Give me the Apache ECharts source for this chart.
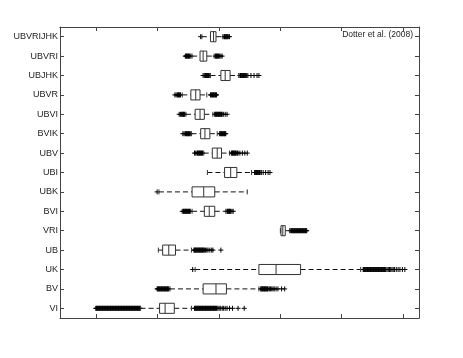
<!DOCTYPE html>
<html>
<head>
    <meta http-equiv=Content-Type content="text/html; charset=utf-8">
    <title>Boxplot</title>
    <script type="text/javascript" src="https://cdn.jsdelivr.net/npm/echarts@6/dist/echarts.min.js"></script>
    <style>
        html, body { margin: 0; padding: 0; background: #fff; }
        #chartmain { width: 463px; height: 358px; }
    </style>
</head>
<body>
<div id="chartmain"></div>
<script type="text/javascript">
    // categories, top to bottom
    var categories = ['UBVRIJHK', 'UBVRI', 'UBJHK', 'UBVR', 'UBVI', 'BVIK', 'UBV', 'UBI',
        'UBK', 'BVI', 'VRI', 'UB', 'UK', 'BV', 'VI'];
    var whiskerLow  = [2.72, 2.56, 2.86, 2.40, 2.46, 2.55, 2.75, 2.81, 2.02, 2.56, 4.00, 2.01, 2.61, 2.20, 1.72];
    var quart1      = [2.86, 2.69, 3.03, 2.54, 2.61, 2.70, 2.89, 3.09, 2.56, 2.76, 4.01, 2.08, 3.65, 2.74, 2.03];
    var medians     = [2.91, 2.74, 3.10, 2.62, 2.69, 2.77, 2.97, 3.19, 2.75, 2.84, 4.04, 2.18, 3.93, 2.95, 2.12];
    var quart3      = [2.95, 2.80, 3.18, 2.69, 2.76, 2.85, 3.04, 3.29, 2.93, 2.93, 4.08, 2.29, 4.33, 3.12, 2.27];
    var whiskerHigh = [3.06, 2.92, 3.32, 2.80, 2.90, 2.97, 3.17, 3.53, 3.46, 3.11, 4.15, 2.55, 5.31, 3.65, 2.55];
    // outliers ('+'), same order as categories
    var outliers = [
        [2.70, 3.08, 3.09, 3.10, 3.11, 3.12, 3.13, 3.14, 3.15, 3.17],                        // UBVRIJHK
        [2.45, 2.46, 2.47, 2.48, 2.49, 2.50, 2.51, 2.52, 2.54, 2.94, 2.95, 2.96, 2.97, 2.98,
            2.99, 3.01, 3.03, 3.05],                                                          // UBVRI
        [2.74, 2.76, 2.78, 2.79, 2.80, 2.81, 2.82, 2.83, 2.84, 3.34, 3.35, 3.36, 3.37, 3.38,
            3.39, 3.40, 3.41, 3.42, 3.43, 3.45, 3.47, 3.52, 3.57, 3.62, 3.65],              // UBJHK
        [2.28, 2.30, 2.32, 2.33, 2.34, 2.35, 2.36, 2.37, 2.86, 2.87, 2.88, 2.89, 2.90, 2.91,
            2.92, 2.93, 2.94, 2.95, 2.96],                                                    // UBVR
        [2.35, 2.37, 2.39, 2.40, 2.41, 2.42, 2.43, 2.44, 2.93, 2.94, 2.95, 2.96, 2.97, 2.98,
            2.99, 3.00, 3.01, 3.02, 3.03, 3.04, 3.05, 3.07, 3.10, 3.13],                    // UBVI
        [2.41, 2.43, 2.45, 2.46, 2.47, 2.48, 2.49, 2.50, 2.51, 2.52, 2.53, 3.01, 3.02, 3.03,
            3.04, 3.05, 3.06, 3.07, 3.08, 3.09, 3.10, 3.11],                                  // BVIK
        [2.60, 2.62, 2.64, 2.65, 2.66, 2.67, 2.68, 2.69, 2.70, 2.71, 2.72, 2.73, 3.20, 3.21,
            3.22, 3.23, 3.24, 3.25, 3.26, 3.27, 3.28, 3.30, 3.31, 3.34, 3.38, 3.42, 3.46],  // UBV
        [3.58, 3.59, 3.60, 3.61, 3.62, 3.63, 3.64, 3.65, 3.66, 3.67, 3.69, 3.72, 3.76, 3.80, 3.83], // UBI
        [1.99],                                                                               // UBK
        [2.40, 2.42, 2.43, 2.44, 2.45, 2.46, 2.47, 2.48, 2.49, 2.50, 2.51, 2.52, 2.53, 3.13,
            3.14, 3.15, 3.16, 3.17, 3.18, 3.19, 3.21, 3.23],                                  // BVI
        [4.17, 4.18, 4.19, 4.20, 4.21, 4.22, 4.23, 4.24, 4.25, 4.26, 4.27, 4.28, 4.29, 4.30,
            4.31, 4.32, 4.33, 4.34, 4.35, 4.36, 4.37, 4.38, 4.39, 4.40, 4.41, 4.42, 4.43],  // VRI
        [2.59, 2.60, 2.61, 2.62, 2.63, 2.64, 2.65, 2.66, 2.67, 2.68, 2.69, 2.70, 2.71, 2.72,
            2.73, 2.74, 2.75, 2.76, 2.78, 2.80, 2.82, 2.85, 2.88, 2.90, 3.03],              // UB
        [2.57, 5.35, 5.36, 5.37, 5.38, 5.39, 5.40, 5.41, 5.42, 5.43, 5.44, 5.45, 5.46, 5.47,
            5.48, 5.49, 5.50, 5.51, 5.52, 5.53, 5.54, 5.55, 5.56, 5.57, 5.58, 5.59, 5.60, 5.61,
            5.62, 5.63, 5.64, 5.65, 5.66, 5.67, 5.68, 5.69, 5.70, 5.71, 5.72, 5.74, 5.76, 5.78,
            5.80, 5.82, 5.84, 5.86, 5.89, 5.92, 5.95, 5.99, 6.03],                          // UK
        [1.99, 2.00, 2.01, 2.02, 2.03, 2.04, 2.05, 2.06, 2.07, 2.08, 2.09, 2.10, 2.11, 2.12,
            2.13, 2.14, 2.15, 2.16, 2.17, 2.18, 3.68, 3.69, 3.70, 3.71, 3.72, 3.73, 3.74, 3.75,
            3.76, 3.77, 3.78, 3.79, 3.80, 3.82, 3.84, 3.86, 3.88, 3.90, 3.93, 3.96, 4.02, 4.07], // BV
        [0.99, 1.00, 1.01, 1.02, 1.03, 1.04, 1.05, 1.06, 1.07, 1.08, 1.09, 1.10, 1.11, 1.12,
            1.13, 1.14, 1.15, 1.16, 1.17, 1.18, 1.19, 1.20, 1.21, 1.22, 1.23, 1.24, 1.25, 1.26,
            1.27, 1.28, 1.29, 1.30, 1.31, 1.32, 1.33, 1.34, 1.35, 1.36, 1.37, 1.38, 1.39, 1.40,
            1.41, 1.42, 1.43, 1.44, 1.45, 1.46, 1.47, 1.48, 1.49, 1.50, 1.51, 1.52, 1.53, 1.54,
            1.55, 1.56, 1.57, 1.58, 1.59, 1.60, 1.61, 1.62, 1.63, 1.64, 1.65, 1.66, 1.67, 1.68,
            1.69, 1.70, 1.71,
            2.60, 2.61, 2.62, 2.63, 2.64, 2.65, 2.66, 2.67, 2.68, 2.69, 2.70, 2.71, 2.72, 2.73,
            2.74, 2.75, 2.76, 2.77, 2.78, 2.79, 2.80, 2.81, 2.82, 2.83, 2.84, 2.85, 2.86, 2.87,
            2.88, 2.89, 2.90, 2.91, 2.92, 2.93, 2.94, 2.95, 2.96, 2.98, 3.00, 3.02, 3.05, 3.07,
            3.10, 3.13, 3.17, 3.22, 3.31, 3.41]                                               // VI
    ];
    var xTicks = [1, 2, 3, 4, 5, 6];

    var boxData = [];
    for (var i = 0; i < categories.length; i++) {
        boxData.push([i, whiskerLow[i], quart1[i], medians[i], quart3[i], whiskerHigh[i]]);
    }
    var outlierData = [];
    for (var k = 0; k < outliers.length; k++) {
        for (var j = 0; j < outliers[k].length; j++) {
            outlierData.push([outliers[k][j], k]);
        }
    }

    function renderBox(params, api) {
        var c = api.value(0);
        var lo = api.coord([api.value(1), c]);
        var a = api.coord([api.value(2), c]);
        var m = api.coord([api.value(3), c]);
        var b = api.coord([api.value(4), c]);
        var hi = api.coord([api.value(5), c]);
        var h = api.size([0, 1])[1] * 0.52;
        var y = a[1];
        var dash = {stroke: '#111', lineWidth: 1, lineDash: [5, 3]};
        var solid = {stroke: '#333', lineWidth: 1, fill: 'none'};
        return {
            type: 'group',
            children: [
                {type: 'line', shape: {x1: lo[0], y1: y, x2: a[0], y2: y}, style: dash},
                {type: 'line', shape: {x1: b[0], y1: y, x2: hi[0], y2: y}, style: dash},
                {type: 'line', shape: {x1: lo[0], y1: y - h / 4, x2: lo[0], y2: y + h / 4}, style: solid},
                {type: 'line', shape: {x1: hi[0], y1: y - h / 4, x2: hi[0], y2: y + h / 4}, style: solid},
                {type: 'rect', shape: {x: a[0], y: y - h / 2, width: b[0] - a[0], height: h}, style: solid},
                {type: 'line', shape: {x1: m[0], y1: y - h / 2, x2: m[0], y2: y + h / 2}, style: solid}
            ]
        };
    }

    var axisColor = '#444';
    function xAxisOpt(pos) {
        return {
            type: 'value', position: pos, min: 0.406, max: 6.261,
            axisLine: {show: true, lineStyle: {color: axisColor, width: 1}},
            axisTick: {show: true, inside: true, length: 4, customValues: xTicks, lineStyle: {color: axisColor}},
            axisLabel: {show: false},
            splitLine: {show: false}
        };
    }
    function yAxisOpt(pos, labels) {
        return {
            type: 'category', position: pos, inverse: true, data: categories,
            axisLine: {show: true, lineStyle: {color: axisColor, width: 1}},
            axisTick: {show: true, inside: true, length: 4, alignWithLabel: true, lineStyle: {color: axisColor}},
            axisLabel: {show: labels, margin: 2, fontSize: 9, color: '#222', fontFamily: 'Liberation Sans, Arial, sans-serif'},
            splitLine: {show: false}
        };
    }

    var myChart = echarts.init(document.getElementById('chartmain'));
    var option = {
        animation: false,
        backgroundColor: '#fff',
        grid: {left: 60, right: 44, top: 27, bottom: 40},
        xAxis: [xAxisOpt('bottom'), xAxisOpt('top')],
        yAxis: [yAxisOpt('left', true), yAxisOpt('right', false)],
        graphic: [{
            type: 'text', right: 50, top: 30,
            style: {text: 'Dotter et al. (2008)', font: '8.5px Liberation Sans, Arial, sans-serif', fill: '#222'}
        }],
        series: [
            {
                type: 'custom',
                renderItem: renderBox,
                xAxisIndex: 0, yAxisIndex: 0,
                encode: {x: [1, 2, 3, 4, 5], y: 0},
                data: boxData,
                z: 3
            },
            {
                type: 'scatter',
                xAxisIndex: 0, yAxisIndex: 0,
                symbol: 'path://M2,0L2,4M0,2L4,2',
                symbolSize: 5,
                itemStyle: {color: 'rgba(0,0,0,0)', borderColor: '#000', borderWidth: 1, opacity: 1},
                data: outlierData,
                z: 2
            }
        ]
    };
    myChart.setOption(option);
</script>
</body>
</html>
